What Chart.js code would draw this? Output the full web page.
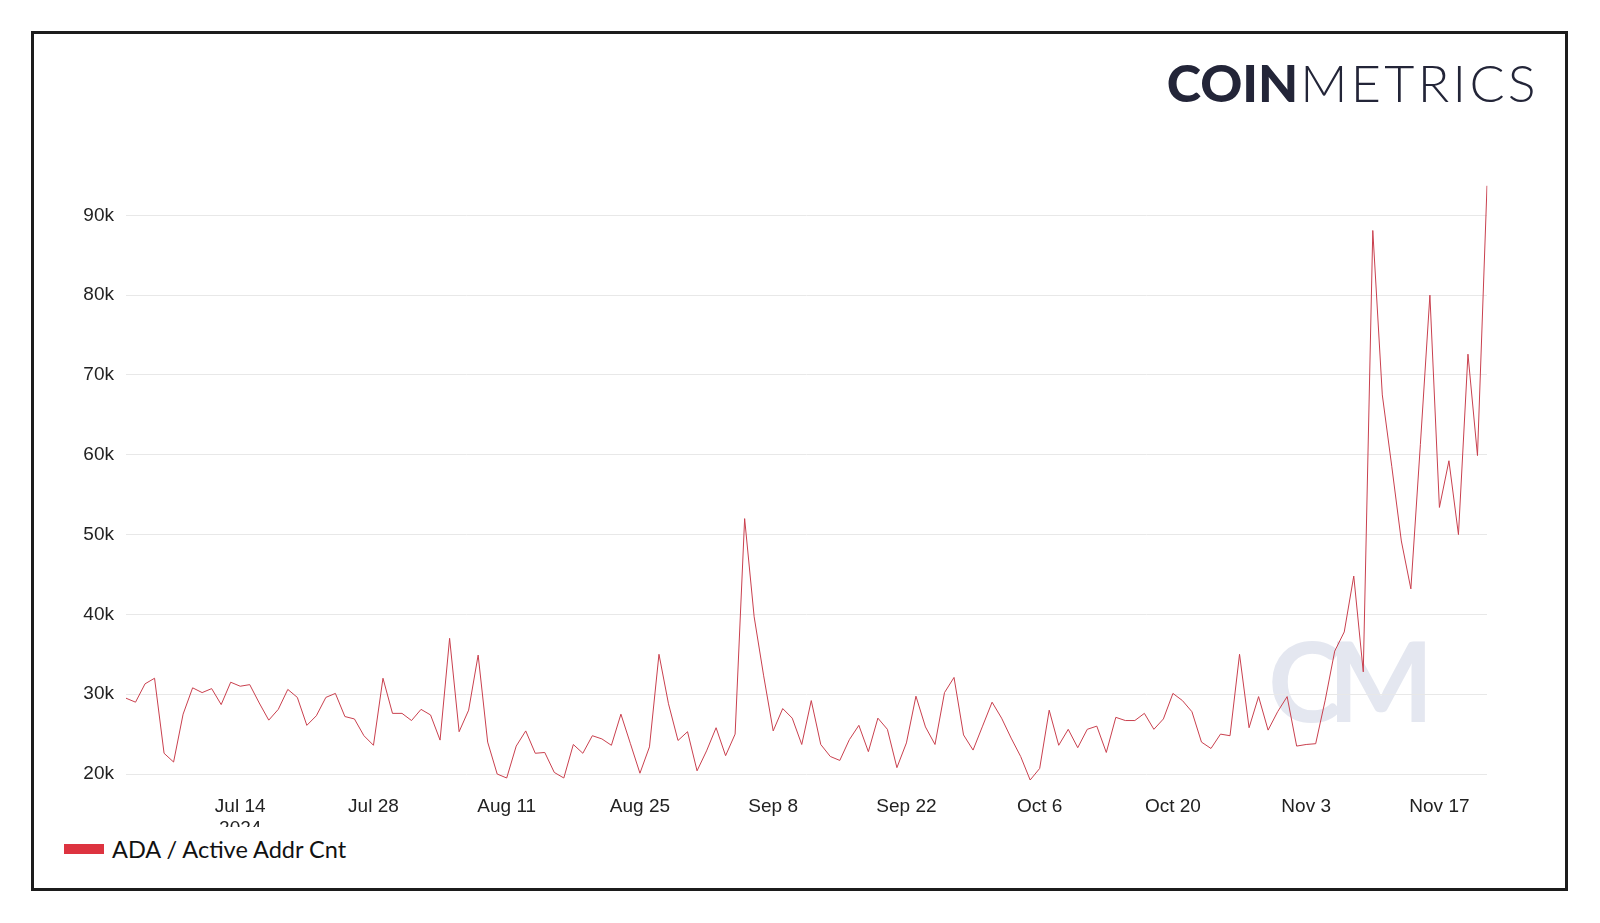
<!DOCTYPE html>
<html>
<head>
<meta charset="utf-8">
<script src="https://cdn.jsdelivr.net/npm/chart.js@4.4.1/dist/chart.umd.min.js"></script>
<style>
  html, body { margin: 0; padding: 0; background: #fff; width: 1600px; height: 923px; overflow: hidden; }
  #frame { position: absolute; left: 31px; top: 31px; width: 1537px; height: 860px; box-sizing: border-box; border: 3px solid #1c1c1c; }
  #logo { position: absolute; right: 61px; top: 49px; font-family: Lato, "Noto Sans", sans-serif; font-size: 52px; color: #232538; white-space: nowrap; line-height: 1.3; }
  #logo .b { font-weight: 900; letter-spacing: 0px; margin-right: 2px; }
  #logo .l { font-weight: 300; letter-spacing: 3.3px; }
  #wm { position: absolute; left: 1268px; top: 612px; font-family: Lato, "Noto Sans", sans-serif; font-weight: 700; font-size: 112px; color: #e4e7f0; letter-spacing: -14px; line-height: 1.2; }
  #wrap { position: absolute; left: 40px; top: 160px; width: 1460px; height: 667px; }
  #legend { position: absolute; left: 64px; top: 833px; font-family: Lato, "Noto Sans", sans-serif; font-size: 23.5px; color: #111; display: flex; align-items: center; height: 32px; }
  #legend .sw { display: inline-block; width: 40px; height: 10px; background: #dd3340; margin-right: 8px; }
</style>
</head>
<body>
<div id="frame"></div>
<div id="logo"><span class="b">COIN</span><span class="l">METRICS</span></div>
<div id="wm">CM</div>
<div id="wrap"><canvas id="c" width="1460" height="667"></canvas></div>
<div id="legend"><span class="sw"></span><span id="legendText"></span></div>
<script>
// ---- data ----
const seriesName = "ADA / Active Addr Cnt";
const startDate = "2024-07-02";
const activeAddr = [
  29500, 29000, 31300, 32000, 22600, 21500, 27500, 30800, 30200, 30700,
  28700, 31500, 31000, 31200, 28900, 26750, 28100, 30600, 29600, 26100,
  27300, 29600, 30100, 27200, 26900, 24800, 23600, 32000, 27600, 27600,
  26700, 28100, 27400, 24250, 37000, 25300, 28000, 34900, 24000, 20000,
  19500, 23500, 25400, 22600, 22700, 20200, 19500, 23700, 22600, 24800,
  24400, 23600, 27500, 23800, 20100, 23400, 35000, 28800, 24200, 25300,
  20400, 22900, 25800, 22300, 25000, 52000, 39700, 32300, 25400, 28200,
  27000, 23700, 29200, 23700, 22200, 21700, 24300, 26100, 22800, 27000,
  25600, 20800, 23900, 29750, 25900, 23700, 30200, 32100, 24900, 23000,
  26000, 29000, 27000, 24500, 22200, 19250, 20700, 28000, 23600, 25600,
  23300, 25600, 26000, 22700, 27100, 26700, 26700, 27600, 25600, 26900,
  30100, 29200, 27800, 24000, 23200, 25000, 24800, 35000, 25800, 29700,
  25500, 27800, 29700, 23500, 23700, 23800, 29250, 35400, 37800, 44800,
  32800, 88100, 67500, 58500, 49200, 43200, 61300, 80000, 53400, 59250,
  50000, 72600, 59900, 93700
];
const xTickDates = ["2024-07-14", "2024-07-28", "2024-08-11", "2024-08-25", "2024-09-08",
  "2024-09-22", "2024-10-06", "2024-10-20", "2024-11-03", "2024-11-17"];
const xTickLabels = [["Jul 14", "2024"], "Jul 28", "Aug 11", "Aug 25", "Sep 8",
  "Sep 22", "Oct 6", "Oct 20", "Nov 3", "Nov 17"];
const yTicks = [20000, 30000, 40000, 50000, 60000, 70000, 80000, 90000];

// ---- categories (one per day of the series) ----
const categories = [];
{
  const d0 = new Date(startDate + "T00:00:00Z");
  for (let i = 0; i < activeAddr.length; i++) {
    const d = new Date(d0.getTime() + i * 86400000);
    categories.push(d.toISOString().slice(0, 10));
  }
}
document.getElementById("legendText").textContent = seriesName;

const tickFont = { family: '"Liberation Sans", Arial, sans-serif', size: 19 };

new Chart(document.getElementById("c"), {
  type: "line",
  data: {
    labels: categories,
    datasets: [{
      label: seriesName,
      data: activeAddr,
      borderColor: "#c9404e",
      backgroundColor: "#dd3340",
      borderWidth: 1,
      pointRadius: 0,
      tension: 0,
      fill: false
    }]
  },
  options: {
    responsive: false,
    devicePixelRatio: 1,
    animation: false,
    layout: { padding: { top: 0, right: 10, left: 0, bottom: 0 } },
    plugins: { legend: { display: false }, tooltip: { enabled: false } },
    scales: {
      x: {
        type: "category",
        offset: false,
        grid: { display: false, drawTicks: false },
        border: { display: false },
        ticks: {
          autoSkip: false,
          maxRotation: 0,
          minRotation: 0,
          padding: 13,
          color: "#222",
          font: tickFont,
          callback: function (val, idx) {
            const k = xTickDates.indexOf(categories[idx]);
            return k >= 0 ? xTickLabels[k] : "";
          }
        },
        afterFit: function (scale) { scale.height = 45; }
      },
      y: {
        min: 19000,
        max: 94000,
        grid: { color: "#e8e8e8", lineWidth: 1, drawTicks: false },
        border: { display: false },
        ticks: {
          padding: 12,
          color: "#222",
          font: tickFont,
          callback: function (v) { return (v / 1000) + "k"; }
        },
        afterBuildTicks: function (scale) { scale.ticks = yTicks.map(v => ({ value: v })); },
        afterFit: function (scale) { scale.width = 86; }
      }
    }
  }
});
</script>
</body>
</html>
